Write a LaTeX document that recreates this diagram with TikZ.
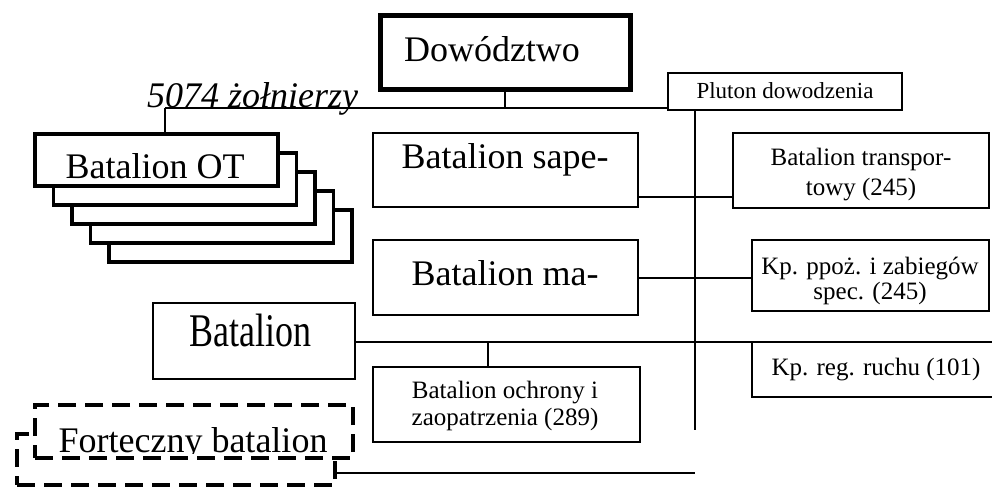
\documentclass[tikz,border=0pt]{standalone}
\usepackage{fontspec}
\setmainfont{Liberation Serif}
\usetikzlibrary{fit}
\begin{document}
\begin{tikzpicture}[x=1pt,y=-1pt,
  thinbox/.style={draw, line width=1.8pt, fill=white, inner sep=0pt},
  dowbox/.style={draw, line width=5pt, fill=white, inner sep=0pt},
  otbox/.style={draw, line width=3.5pt, fill=white, inner sep=0pt},
  dashbox/.style={draw, line width=3.5pt, dash pattern=on 18pt off 9pt, fill=white, inner sep=0pt},
  conn/.style={line width=1.8pt},
  txt/.style={inner sep=0pt, anchor=base},
  bigtxt/.style={txt, font=\fontsize{36}{40}\selectfont},
  smalltxt/.style={txt, font=\fontsize{25}{30}\selectfont}]
\useasboundingbox (0,0) rectangle (992,487);
\clip (0,0) rectangle (992,487);

% coordinates for connector junctions
\coordinate (jOT) at (165,108);
\coordinate (vbot) at (695,430);
\coordinate (jTr) at (695,197);
\coordinate (jKp) at (695,278);
\coordinate (rend) at (1000,342);
\coordinate (jOch) at (488,342);
\coordinate (fend) at (695,473);

% boxes
\node[dowbox, fit={(380,16) (630,89)}] (dow) {};
\node[thinbox, fit={(668,73) (902,110)}] (plut) {};
\node[thinbox, fit={(373,133) (638,207)}] (sap) {};
\node[thinbox, fit={(373,240) (638,315)}] (ma) {};
\node[thinbox, fit={(733,133) (989,208)}] (tr) {};
\node[thinbox, fit={(752,240) (989,311)}] (kpp) {};
\node[thinbox, fit={(153,303) (355,379)}] (bat) {};
\node[thinbox, fit={(373,367) (640,442)}] (ochr) {};
\node[thinbox, fit={(752,342) (1000,397)}] (kpr) {};

% stacked Batalion OT boxes
\foreach \k in {4,3,2,1} {
  \node[otbox, fit={({35+18.5*\k},{134+19*\k}) ({278+18.5*\k},{186+19*\k})}] (ot\k) {};
}
\node[otbox, fit={(35,134) (278,186)}] (ot0) {};

% dashed fortress battalion boxes
\node[dashbox, fit={(17,434) (335,485)}] (fort2) {};
\node[dashbox, fit={(35,405) (353,458)}] (fort1) {};

% connectors
\draw[conn] (jOT) -- (jOT -| plut.west);
\draw[conn] (jOT) -- (jOT |- ot0.north);
\draw[conn] (dow.south) -- (dow.south |- jOT);
\draw[conn] (plut.south -| vbot) -- (vbot);
\draw[conn] (sap.east |- jTr) -- (tr.west |- jTr);
\draw[conn] (ma.east |- jKp) -- (kpp.west |- jKp);
\draw[conn] (bat.east |- rend) -- (rend);
\draw[conn] (jOch) -- (jOch |- ochr.north);
\draw[conn] (fend -| fort2.east) -- (fend);

% texts
\node[bigtxt] (dowT) at (492,62) {Dowództwo};
\node[bigtxt, anchor=base west, font=\fontsize{36}{40}\selectfont\itshape] (zolT) at (147,107) {5074 żołnierzy};
\node[txt, font=\fontsize{23}{28}\selectfont] (plT) at (785,98) {Pluton dowodzenia};
\node[bigtxt] (otT) at (155,178) {Batalion OT};
\node[bigtxt] (sapT) at (505,168) {Batalion sape-};
\node[bigtxt] (maT) at (505,285) {Batalion ma-};
\node[bigtxt] (batT) at (250,346) {\scalebox{1}[1.3]{Batalion}};
\node[smalltxt] (trT1) at (861,165) {Batalion transpor-};
\node[smalltxt] (trT2) at (861,195) {towy (245)};
\node[smalltxt] (kppT1) at (870,274) {Kp. ppoż. i zabiegów};
\node[smalltxt] (kppT2) at (870,299) {spec. (245)};
\node[smalltxt] (kprT) at (876,375) {Kp. reg. ruchu (101)};
\node[smalltxt] (ochT1) at (505,398) {Batalion ochrony i};
\node[smalltxt] (ochT2) at (505,425) {zaopatrzenia (289)};
\begin{scope}
  \clip (37,407) rectangle (351,453);
  \node[bigtxt] (fortT) at (193,452) {Forteczny batalion};
\end{scope}
\end{tikzpicture}
\end{document}
